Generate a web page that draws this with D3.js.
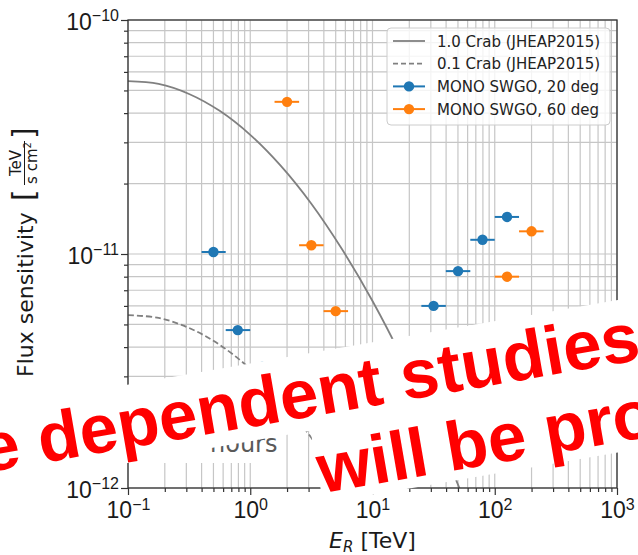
<!DOCTYPE html>
<html lang="en">
<head>
    <meta charset="UTF-8">
    <title>Flux sensitivity - MONO SWGO</title>
    <script src="https://d3js.org/d3.v7.min.js"></script>
    <style>
        body {
            margin: 0;
            background: #fff;
        }

        svg {
            display: block;
            font-family: "DejaVu Sans", sans-serif;
        }

        .grid line {
            stroke: #c6c6c6;
            stroke-width: 1.2;
        }

        .axis line {
            stroke: #333;
            stroke-width: 1.2;
        }

        .tick-label {
            font-size: 23px;
            fill: #1a1a1a;
        }

        .legend-text {
            font-size: 15px;
            fill: #222;
        }

        .banner text {
            font-family: "Liberation Sans", Arial, sans-serif;
            font-weight: bold;
            font-size: 69px;
            fill: #ff0000;
        }
    </style>
</head>
<body>
    <div id="chart"></div>

    <script>
        // Crab reference spectra (JHEAP2015)
        const crabEnergy = [0.1, 0.178, 0.316, 0.562, 1, 1.78, 3.16, 5.62, 10, 17.8, 31.6, 56.2];
        const crabFlux = [5.48e-11, 5.33e-11, 4.83e-11, 4.09e-11, 3.23e-11, 2.38e-11, 1.64e-11, 1.05e-11, 6.3e-12, 3.52e-12, 1.84e-12, 8.9e-13];
        const crabTenthFlux = [5.48e-12, 5.33e-12, 4.83e-12, 4.09e-12, 3.23e-12, 2.38e-12, 1.64e-12, 1.05e-12, 6.3e-13, 3.5e-13, 1.8e-13, 9e-14];

        // MONO SWGO, 20 deg
        const blueEnergy = [0.5, 0.79, 1.26, 31.6, 50.1, 79.4, 126];
        const blueEnergyLow = [0.4, 0.63, 1.0, 25.1, 39.8, 63.1, 100];
        const blueEnergyHigh = [0.63, 1.0, 1.58, 39.8, 63.1, 100, 158];
        const blueFlux = [1.02e-11, 4.73e-12, 3.3e-12, 6.0e-12, 8.45e-12, 1.15e-11, 1.44e-11];

        // MONO SWGO, 60 deg
        const orangeEnergy = [2.0, 3.16, 5.0, 79.4, 126, 200];
        const orangeEnergyLow = [1.58, 2.51, 3.98, 63.1, 100, 158];
        const orangeEnergyHigh = [2.51, 3.98, 6.31, 100, 158, 251];
        const orangeFlux = [4.47e-11, 1.09e-11, 5.7e-12, 4.75e-12, 8.0e-12, 1.25e-11];

        // ticks and labels
        const xMajorTicks = [0.1, 1, 10, 100, 1000];
        const xTickExponents = ["\u22121", "0", "1", "2", "3"];
        const yMajorTicks = [1e-12, 1e-11, 1e-10];
        const yTickExponents = ["\u221212", "\u221211", "\u221210"];

        const legendLabels = ["1.0 Crab (JHEAP2015)", "0.1 Crab (JHEAP2015)", "MONO SWGO, 20 deg", "MONO SWGO, 60 deg"];
        const boxLabel = "hours";
        const bannerLines = ["e dependent studies", "will be pro"];

        const blue = "#1f77b4", orange = "#ff7f0e", crabColor = "#808080";

        // Overall dimensions
        const totalWidth = 638, totalHeight = 555;
        const margin = { top: 20, right: 21, bottom: 67, left: 128 },
            width = totalWidth - margin.left - margin.right,
            height = totalHeight - margin.top - margin.bottom;

        const svg = d3.select("#chart")
            .append("svg")
            .attr("width", totalWidth)
            .attr("height", totalHeight);

        svg.append("defs").append("clipPath")
            .attr("id", "clip")
            .append("rect")
            .attr("width", width)
            .attr("height", height);

        const chart = svg.append("g")
            .attr("transform", `translate(${margin.left},${margin.top})`);

        const x = d3.scaleLog().domain([0.1, 1000]).range([0, width]);
        const y = d3.scaleLog().domain([1e-12, 1e-10]).range([height, 0]);

        const isMajor = d => Math.abs(Math.log10(d) - Math.round(Math.log10(d))) < 1e-9;

        // grid, major and minor
        const grid = chart.append("g").attr("class", "grid");
        grid.selectAll(".gx").data(x.ticks()).join("line")
            .attr("x1", d => x(d)).attr("x2", d => x(d))
            .attr("y1", 0).attr("y2", height);
        grid.selectAll(".gy").data(y.ticks()).join("line")
            .attr("y1", d => y(d)).attr("y2", d => y(d))
            .attr("x1", 0).attr("x2", width);

        // Crab curves
        const crabLine = d3.line()
            .x(d => x(d[0]))
            .y(d => y(d[1]))
            .curve(d3.curveCatmullRom);

        const curves = chart.append("g").attr("clip-path", "url(#clip)");
        curves.append("path")
            .datum(crabEnergy.map((e, i) => [e, crabFlux[i]]))
            .attr("fill", "none")
            .attr("stroke", crabColor)
            .attr("stroke-width", 1.8)
            .attr("d", crabLine);
        curves.append("path")
            .datum(crabEnergy.map((e, i) => [e, crabTenthFlux[i]]))
            .attr("fill", "none")
            .attr("stroke", crabColor)
            .attr("stroke-width", 1.8)
            .attr("stroke-dasharray", "6,3")
            .attr("d", crabLine);

        // error bar points
        function drawSeries(energy, lo, hi, flux, color) {
            const pts = energy.map((e, i) => ({ e: e, lo: lo[i], hi: hi[i], f: flux[i] }));
            const s = chart.append("g").attr("clip-path", "url(#clip)");
            s.selectAll("line").data(pts).join("line")
                .attr("x1", d => x(d.lo)).attr("x2", d => x(d.hi))
                .attr("y1", d => y(d.f)).attr("y2", d => y(d.f))
                .attr("stroke", color).attr("stroke-width", 2);
            s.selectAll("circle").data(pts).join("circle")
                .attr("cx", d => x(d.e)).attr("cy", d => y(d.f))
                .attr("r", 5.2).attr("fill", color);
        }
        drawSeries(blueEnergy, blueEnergyLow, blueEnergyHigh, blueFlux, blue);
        drawSeries(orangeEnergy, orangeEnergyLow, orangeEnergyHigh, orangeFlux, orange);

        // axes: minor and major ticks
        const xMinor = x.ticks().filter(d => !isMajor(d));
        const yMinor = y.ticks().filter(d => !isMajor(d));

        chart.append("g").attr("class", "axis")
            .attr("transform", `translate(0,${height})`)
            .call(d3.axisBottom(x).tickValues(xMinor).tickSize(4).tickFormat(""))
            .call(g => g.select(".domain").remove());
        const xAxis = chart.append("g").attr("class", "axis")
            .attr("transform", `translate(0,${height})`)
            .call(d3.axisBottom(x).tickValues(xMajorTicks).tickSize(7).tickFormat(""))
            .call(g => g.select(".domain").remove());

        chart.append("g").attr("class", "axis")
            .call(d3.axisLeft(y).tickValues(yMinor).tickSize(4).tickFormat(""))
            .call(g => g.select(".domain").remove());
        const yAxis = chart.append("g").attr("class", "axis")
            .call(d3.axisLeft(y).tickValues(yMajorTicks).tickSize(7).tickFormat(""))
            .call(g => g.select(".domain").remove());

        function powerLabel(sel, exp) {
            sel.append("tspan").text("10");
            sel.append("tspan").attr("dy", -8.5).attr("font-size", 16).text(exp);
        }

        xAxis.selectAll(".tick").each(function (d, i) {
            d3.select(this).select("text").remove();
            const t = d3.select(this).append("text")
                .attr("class", "tick-label")
                .attr("text-anchor", "middle")
                .attr("y", 30);
            powerLabel(t, xTickExponents[i]);
        });
        yAxis.selectAll(".tick").each(function (d, i) {
            d3.select(this).select("text").remove();
            const t = d3.select(this).append("text")
                .attr("class", "tick-label")
                .attr("text-anchor", "end")
                .attr("x", -9)
                .attr("y", 9);
            powerLabel(t, yTickExponents[i]);
        });

        // spines
        chart.append("rect")
            .attr("width", width).attr("height", height)
            .attr("fill", "none").attr("stroke", "#333").attr("stroke-width", 1.3);

        // x label
        const xLabel = svg.append("text")
            .attr("x", margin.left + width / 2)
            .attr("y", 548)
            .attr("text-anchor", "middle")
            .attr("font-size", 22)
            .attr("fill", "#1a1a1a");
        xLabel.append("tspan").attr("font-style", "italic").text("E");
        xLabel.append("tspan").attr("font-style", "italic").attr("font-size", 15).attr("dy", 4).text("R");
        xLabel.append("tspan").attr("dy", -4).text(" [TeV]");

        // y label with fraction
        const yLabel = svg.append("g")
            .attr("transform", `translate(33,${margin.top + height / 2}) rotate(-90)`)
            .attr("fill", "#1a1a1a");
        yLabel.append("text").attr("x", -123).attr("y", 0).attr("font-size", 22).text("Flux sensitivity");
        yLabel.append("text").attr("x", 53).attr("y", 1).attr("font-size", 30).text("[");
        yLabel.append("text").attr("x", 91).attr("y", -12).attr("text-anchor", "middle").attr("font-size", 15).text("TeV");
        yLabel.append("line").attr("x1", 69).attr("x2", 113).attr("y1", -8.5).attr("y2", -8.5)
            .attr("stroke", "#1a1a1a").attr("stroke-width", 1);
        const den = yLabel.append("text").attr("x", 91).attr("y", 4).attr("text-anchor", "middle").attr("font-size", 15);
        den.append("tspan").text("s cm");
        den.append("tspan").attr("dy", -6).attr("font-size", 10).text("2");
        yLabel.append("text").attr("x", 115).attr("y", 1).attr("font-size", 30).text("]");

        // legend
        const legend = svg.append("g").attr("transform", "translate(387,28)");
        legend.append("rect")
            .attr("width", 223).attr("height", 97).attr("rx", 4)
            .attr("fill", "#fff").attr("fill-opacity", 0.8)
            .attr("stroke", "#cccccc").attr("stroke-width", 1);
        const legendStyles = [
            { color: crabColor, dash: null, dot: false },
            { color: crabColor, dash: "5,3", dot: false },
            { color: blue, dash: null, dot: true },
            { color: orange, dash: null, dot: true }
        ];
        legendLabels.forEach((label, i) => {
            const row = legend.append("g").attr("transform", `translate(0,${13 + i * 22.7})`);
            const st = legendStyles[i];
            row.append("line")
                .attr("x1", 6).attr("x2", 38)
                .attr("stroke", st.color)
                .attr("stroke-width", st.dot ? 2 : 1.8)
                .attr("stroke-dasharray", st.dash);
            if (st.dot) row.append("circle").attr("cx", 22).attr("r", 5.2).attr("fill", st.color);
            row.append("text").attr("class", "legend-text")
                .attr("x", 50).attr("y", 5.5).text(label);
        });

        // text box under the overlay
        svg.append("rect")
            .attr("x", 100).attr("y", 422).attr("width", 184).attr("height", 41)
            .attr("fill", "#fff");
        svg.append("text")
            .attr("x", 277.5).attr("y", 452)
            .attr("text-anchor", "end")
            .attr("font-size", 24)
            .attr("fill", "#5a5a5a")
            .text(boxLabel);

        // rotated banner overlay
        const banner = svg.append("g")
            .attr("class", "banner")
            .attr("transform", "translate(-15,472.8) rotate(-9.8)");
        banner.append("rect")
            .attr("x", -200).attr("y", -62.6).attr("width", 1100).attr("height", 76.6)
            .attr("fill", "#fff");
        banner.append("rect")
            .attr("x", 328).attr("y", 9.1).attr("width", 600).attr("height", 78.6)
            .attr("fill", "#fff");
        banner.append("text").attr("x", 0).attr("y", 0).text(bannerLines[0]);
        banner.append("text").attr("x", 328).attr("y", 77.5).text(bannerLines[1]);
    </script>
</body>
</html>
